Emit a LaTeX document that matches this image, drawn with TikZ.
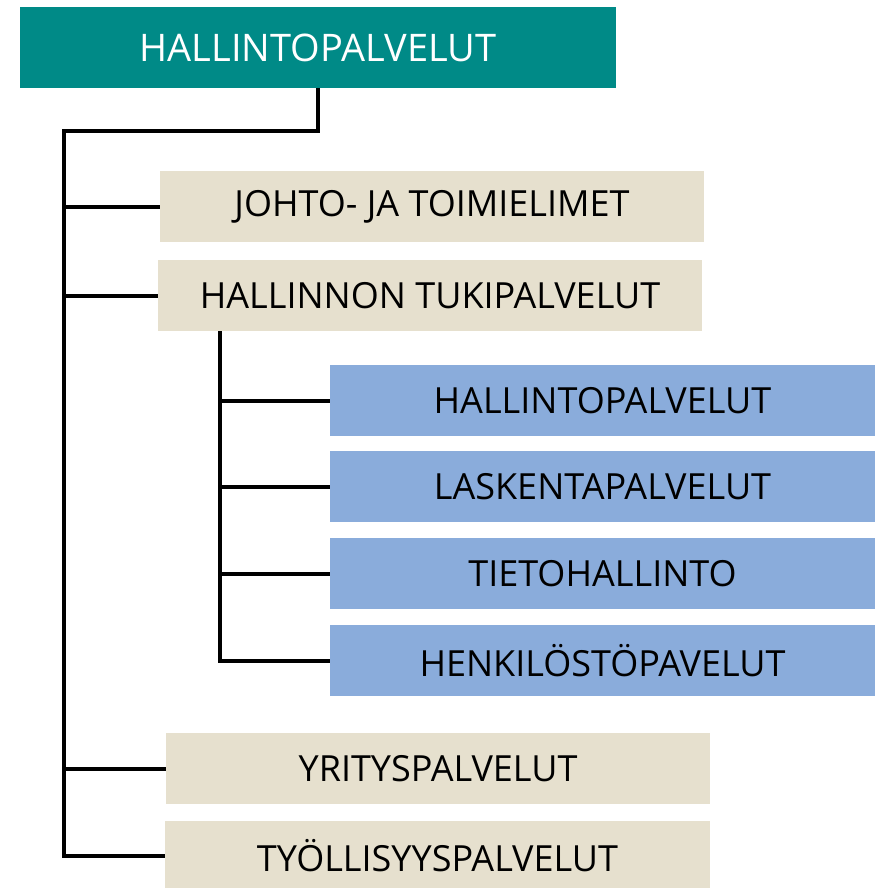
\documentclass[tikz,border=0pt]{standalone}
\usepackage{fontspec}
\setmainfont{Open Sans}
\definecolor{teal1}{RGB}{0,138,135}
\definecolor{beige1}{RGB}{230,224,206}
\definecolor{blue1}{RGB}{138,172,219}
\begin{document}
\begin{tikzpicture}[x=1pt,y=-1pt,
  box/.style={anchor=north west,inner sep=0pt,outer sep=0pt,text=black,font=\fontsize{36}{40}\selectfont},
  conn/.style={draw=black,line width=4pt}]
\useasboundingbox (0,0) rectangle (879,888);
\node[box,fill=teal1,minimum width=596pt,minimum height=81pt,text=white,font=\fontsize{38}{42}\selectfont] (top) at (20,7) {HALLINTOPALVELUT};
\node[box,fill=beige1,minimum width=544pt,minimum height=71pt] (johto) at (160,171) {JOHTO- JA TOIMIELIMET};
\node[box,fill=beige1,minimum width=544pt,minimum height=71pt] (tuki) at (158,260) {HALLINNON TUKIPALVELUT};
\node[box,fill=blue1,minimum width=545pt,minimum height=71pt] (b1) at (330,365) {HALLINTOPALVELUT};
\node[box,fill=blue1,minimum width=545pt,minimum height=71pt] (b2) at (330,451) {LASKENTAPALVELUT};
\node[box,fill=blue1,minimum width=545pt,minimum height=71pt] (b3) at (330,538) {TIETOHALLINTO};
\node[box,fill=blue1,minimum width=545pt,minimum height=71pt] (b4) at (330,625) {HENKILÖSTÖPAVELUT};
\node[box,fill=beige1,minimum width=544pt,minimum height=71pt] (yri) at (166,733) {YRITYSPALVELUT};
\node[box,fill=beige1,minimum width=545pt,minimum height=70pt] (tyo) at (165,821) {TYÖLLISYYSPALVELUT};
\coordinate (t0) at (64,131);
\coordinate (s0) at (220,331);
\draw[conn] (top.south) |- (t0) |- (tyo.west);
\draw[conn] (t0 |- johto.west) -- (johto.west);
\draw[conn] (t0 |- tuki.west) -- (tuki.west);
\draw[conn] (t0 |- yri.west) -- (yri.west);
\draw[conn] (s0) |- (b4.west);
\draw[conn] (s0 |- b1.west) -- (b1.west);
\draw[conn] (s0 |- b2.west) -- (b2.west);
\draw[conn] (s0 |- b3.west) -- (b3.west);
\end{tikzpicture}
\end{document}
